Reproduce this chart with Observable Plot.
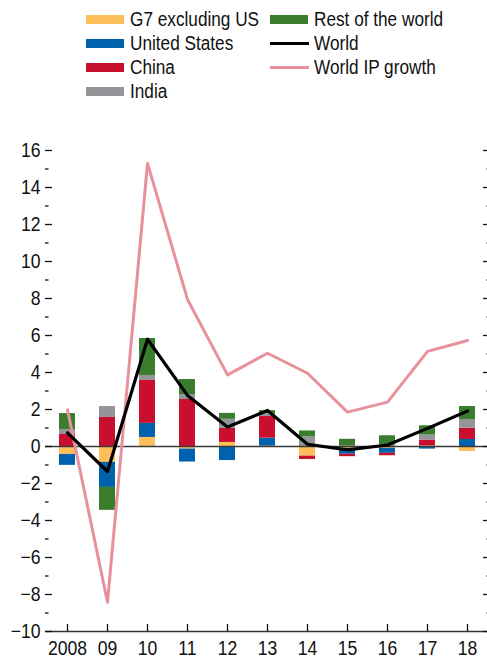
<!DOCTYPE html>
<html>
<head>
<meta charset="utf-8">
<script src="https://cdn.jsdelivr.net/npm/d3@7"></script>
<script src="https://cdn.jsdelivr.net/npm/@observablehq/plot@0.6"></script>
<style>
  body { margin: 0; background: #fff; }
  #wrap { width: 487px; height: 660px; position: relative; font-family: "Liberation Sans", Arial, sans-serif; }
  #legend { position: relative; width: 487px; height: 110px; }
  .item { position: absolute; height: 24px; display: flex; align-items: center; font-size: 20px; color: #111; white-space: nowrap; }
  .sw { width: 38px; height: 9px; margin-right: 6px; flex: none; }
  .ln { width: 39px; height: 3px; margin-right: 5px; flex: none; }
  .lbl { display: inline-block; transform: scaleX(0.86); transform-origin: 0 50%; }
</style>
</head>
<body>
<div id="wrap">
  <div id="legend"></div>
  <div id="chart"></div>
</div>
<script>
// ---- data ----
const years = [2008, 2009, 2010, 2011, 2012, 2013, 2014, 2015, 2016, 2017, 2018];
const xLabels = ["2008", "09", "10", "11", "12", "13", "14", "15", "16", "17", "18"];
const seriesNames = ["G7 excluding US", "United States", "China", "India", "Rest of the world"];
const g7    = [-0.43, -0.86, 0.49, -0.14, 0.22, 0.02, -0.52, -0.10, -0.10, 0.03, -0.27];
const us    = [-0.59, -1.35, 0.76, -0.70, -0.76, 0.43, 0.00, -0.32, -0.27, -0.14, 0.38];
const china = [0.65, 1.57, 2.32, 2.54, 0.76, 1.17, -0.18, -0.13, -0.13, 0.32, 0.61];
const india = [0.27, 0.59, 0.27, 0.27, 0.49, 0.16, 0.52, 0.03, 0.10, 0.27, 0.47];
const rest  = [0.86, -1.24, 2.00, 0.81, 0.32, 0.16, 0.32, 0.36, 0.48, 0.50, 0.70];
const world = [0.74, -1.35, 5.80, 2.76, 1.05, 1.95, 0.12, -0.18, 0.08, 0.98, 1.92];
const worldIP = [1.98, -8.42, 15.30, 7.95, 3.87, 5.04, 3.96, 1.86, 2.40, 5.14, 5.73];
const yMajor = [-10, -8, -6, -4, -2, 0, 2, 4, 6, 8, 10, 12, 14, 16];
const yMinor = [-9, -7, -5, -3, -1, 1, 3, 5, 7, 9, 11, 13, 15];

// ---- styles ----
const barColors = ["#FDBF5A", "#0062AC", "#C8102E", "#939598", "#3A7D2C"];
const worldColor = "#000000";
const ipColor = "#E8919D";
const condense = 0.88;

// ---- tables built from the arrays ----
const seriesValues = [g7, us, china, india, rest];
const bars = [];
years.forEach((yr, i) => seriesNames.forEach((s, k) => bars.push({year: yr, series: s, value: seriesValues[k][i]})));
const lines = years.map((yr, i) => ({year: yr, world: world[i], ip: worldIP[i]}));

// ---- legend ----
const legendItems = [
  {label: "G7 excluding US", kind: "sw", color: barColors[0], col: 0, row: 0},
  {label: "United States", kind: "sw", color: barColors[1], col: 0, row: 1},
  {label: "China", kind: "sw", color: barColors[2], col: 0, row: 2},
  {label: "India", kind: "sw", color: barColors[3], col: 0, row: 3},
  {label: "Rest of the world", kind: "sw", color: barColors[4], col: 1, row: 0},
  {label: "World", kind: "ln", color: worldColor, col: 1, row: 1},
  {label: "World IP growth", kind: "ln", color: ipColor, col: 1, row: 2}
];
const legend = document.getElementById("legend");
legendItems.forEach(it => {
  const d = document.createElement("div");
  d.className = "item";
  d.style.left = (it.col === 0 ? 86 : 270) + "px";
  d.style.top = (7 + it.row * 24) + "px";
  const s = document.createElement("span");
  s.className = it.kind;
  s.style.background = it.color;
  d.appendChild(s);
  const t = document.createElement("span");
  t.className = "lbl";
  t.textContent = it.label;
  d.appendChild(t);
  legend.appendChild(d);
});

// ---- chart ----
const chart = Plot.plot({
  width: 487,
  height: 550,
  marginTop: 40,
  marginBottom: 29,
  marginLeft: 45,
  marginRight: -2,
  style: {fontSize: "20px", fontFamily: "'Liberation Sans', Arial, sans-serif", color: "#111", background: "transparent"},
  x: {type: "band", domain: years, paddingInner: 0.6, paddingOuter: 0.3, label: null},
  y: {domain: [-10, 16], label: null},
  color: {domain: seriesNames, range: barColors},
  marks: [
    Plot.barY(bars, {x: "year", y: "value", fill: "series"}),
    Plot.ruleY([0], {stroke: "#3a3a3a", strokeWidth: 1.3}),
    Plot.ruleY([-10], {stroke: "#333", strokeWidth: 1.5}),
    Plot.line(lines, {x: "year", y: "ip", stroke: ipColor, strokeWidth: 3}),
    Plot.line(lines, {x: "year", y: "world", stroke: worldColor, strokeWidth: 3.2}),
    Plot.axisY({anchor: "left", ticks: yMajor, tickSize: -7, text: null, stroke: "#111", strokeWidth: 1.3}),
    Plot.axisY({anchor: "left", ticks: yMinor, tickSize: -3.5, text: null, stroke: "#111", strokeWidth: 1.3}),
    Plot.axisY({anchor: "right", ticks: yMajor, tickSize: -7, text: null, stroke: "#111", strokeWidth: 1.3}),
    Plot.axisY({anchor: "right", ticks: yMinor, tickSize: -3.5, text: null, stroke: "#111", strokeWidth: 1.3}),
    Plot.axisY({anchor: "left", ticks: yMajor, tickSize: 0, tickPadding: 5, fill: "#111", label: null}),
    Plot.axisX({anchor: "bottom", tickSize: -7, text: null, stroke: "#111", strokeWidth: 1.3}),
    Plot.axisX({anchor: "bottom", tickSize: 0, tickPadding: 9, tickFormat: (d) => xLabels[years.indexOf(d)], fill: "#111", label: null})
  ]
});
document.getElementById("chart").appendChild(chart);

// narrow-font look: compress each tick label's advance width, positions untouched
chart.querySelectorAll("text").forEach(t => {
  const w = t.getComputedTextLength();
  if (w > 0) {
    t.setAttribute("textLength", (w * condense).toFixed(2));
    t.setAttribute("lengthAdjust", "spacingAndGlyphs");
  }
});
</script>
</body>
</html>
